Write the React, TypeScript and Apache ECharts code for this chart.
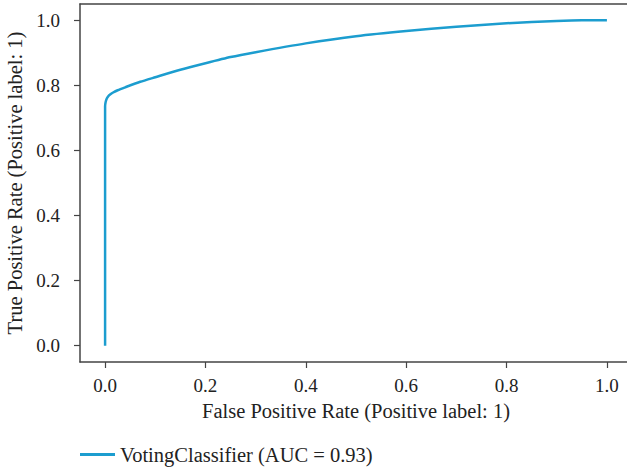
import React, { useEffect, useRef } from "react";
import * as echarts from "echarts";

const fpr = [0, 0, 0.001, 0.003, 0.006, 0.01, 0.016, 0.025, 0.04, 0.07, 0.1, 0.15, 0.2, 0.25, 0.3, 0.4, 0.5, 0.6, 0.7, 0.8, 0.9, 0.95, 1.0];
const tpr = [0, 0.735, 0.748, 0.758, 0.766, 0.772, 0.778, 0.785, 0.794, 0.811, 0.825, 0.848, 0.868, 0.887, 0.902, 0.929, 0.951, 0.967, 0.98, 0.991, 0.998, 1.0, 1.0];
const tickValues = [0, 0.2, 0.4, 0.6, 0.8, 1.0];
const seriesName = "VotingClassifier (AUC = 0.93)";
const xTitle = "False Positive Rate (Positive label: 1)";
const yTitle = "True Positive Rate (Positive label: 1)";

const FONT = "'Liberation Serif', 'DejaVu Serif', serif";
const AXIS = "#444";
const TEXT = "#222";
const LINE = "#1c9dcf";
const TITLE_FS = 20.5;
const TICK_FS = 19;

export default function App() {
  const ref = useRef<HTMLDivElement>(null);
  useEffect(() => {
    document.body.style.margin = "0";
    const chart = echarts.init(ref.current!, null, { renderer: "svg" });
    chart.setOption({
      animation: false,
      backgroundColor: "#fff",
      textStyle: { fontFamily: FONT },
      grid: { left: 80, top: 4, width: 552, height: 358, show: false, containLabel: false, outerBoundsMode: "none" },
      xAxis: [
        {
          type: "value",
          min: -0.05,
          max: 1.05,
          name: xTitle,
          nameLocation: "middle",
          nameGap: 38,
          nameTextStyle: { fontFamily: FONT, fontSize: TITLE_FS, color: TEXT },
          axisLine: { show: true, onZero: false, lineStyle: { color: AXIS, width: 1.5 } },
          axisTick: { show: true, length: 6, lineStyle: { color: AXIS, width: 1.2 }, customValues: tickValues },
          axisLabel: { fontFamily: FONT, fontSize: TICK_FS, color: TEXT, margin: 14, customValues: tickValues, formatter: (v: number) => v.toFixed(1) },
          splitLine: { show: false },
        },
        {
          type: "value",
          position: "top",
          min: -0.05,
          max: 1.05,
          axisLine: { show: true, onZero: false, lineStyle: { color: AXIS, width: 1.5 } },
          axisTick: { show: false },
          axisLabel: { show: false },
          splitLine: { show: false },
        },
      ],
      yAxis: {
        type: "value",
        min: -0.05,
        max: 1.05,
        name: yTitle,
        nameLocation: "middle",
        nameGap: 51,
        nameTextStyle: { fontFamily: FONT, fontSize: TITLE_FS, color: TEXT },
        axisLine: { show: true, onZero: false, lineStyle: { color: AXIS, width: 1.5 } },
        axisTick: { show: true, length: 6, lineStyle: { color: AXIS, width: 1.2 }, customValues: tickValues },
        axisLabel: { fontFamily: FONT, fontSize: TICK_FS, color: TEXT, margin: 20, customValues: tickValues, formatter: (v: number) => v.toFixed(1) },
        splitLine: { show: false },
      },
      legend: {
        left: 75,
        top: 439,
        icon: "rect",
        itemWidth: 35,
        itemHeight: 3,
        itemGap: 10,
        textStyle: { fontFamily: FONT, fontSize: TITLE_FS, color: TEXT },
        data: [seriesName],
      },
      series: [
        {
          name: seriesName,
          type: "line",
          xAxisIndex: 0,
          data: fpr.map((x, i) => [x, tpr[i]]),
          showSymbol: false,
          smooth: 0.2,
          lineStyle: { color: LINE, width: 2.5 },
          itemStyle: { color: LINE },
        },
      ],
    });
    return () => chart.dispose();
  }, []);
  return <div ref={ref} style={{ width: 627, height: 468, overflow: "hidden" }} />;
}
